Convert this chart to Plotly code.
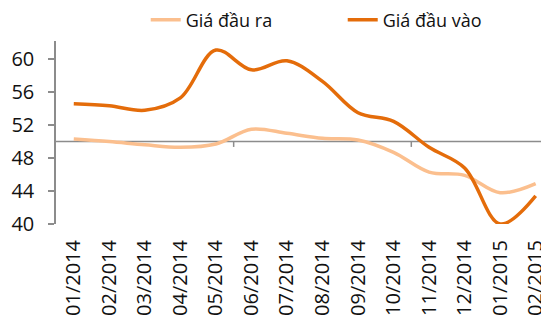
import plotly.graph_objects as go

months = ["01/2014", "02/2014", "03/2014", "04/2014", "05/2014", "06/2014", "07/2014",
          "08/2014", "09/2014", "10/2014", "11/2014", "12/2014", "01/2015", "02/2015"]
gia_dau_ra = [50.3, 50.0, 49.6, 49.3, 49.7, 51.5, 51.0, 50.4, 50.2, 48.7, 46.3, 45.9, 43.8, 44.9]
gia_dau_vao = [54.6, 54.35, 53.8, 55.3, 61.1, 58.7, 59.8, 57.3, 53.5, 52.45, 49.3, 46.8, 40.0, 43.4]
y_ticks = [40, 44, 48, 52, 56, 60]
axis_ref = 50

x_idx = list(range(len(months)))

fig = go.Figure()
fig.add_trace(go.Scatter(x=x_idx, y=gia_dau_ra, name="Giá đầu ra", mode="lines",
                         line=dict(color="#FBBF8E", width=3.5, shape="spline", smoothing=1.0)))
fig.add_trace(go.Scatter(x=x_idx, y=gia_dau_vao, name="Giá đầu vào", mode="lines",
                         line=dict(color="#E46C0A", width=3.5, shape="spline", smoothing=1.0)))

# horizontal axis line at 50 with ticks every 5 categories
fig.add_shape(type="line", xref="paper", x0=0, x1=1, yref="y", y0=axis_ref, y1=axis_ref,
              line=dict(color="#8C8C8C", width=1.5), layer="below")
for t in [4.5, 9.5]:
    fig.add_shape(type="line", xref="x", x0=t, x1=t, yref="y", y0=axis_ref, y1=axis_ref - 0.65,
                  line=dict(color="#8C8C8C", width=1.5), layer="below")

fig.update_layout(
    width=541, height=316,
    margin=dict(l=56, r=0, t=41, b=92),
    paper_bgcolor="white", plot_bgcolor="white",
    font=dict(family="Open Sans", size=20, color="#111111"),
    showlegend=True,
    legend=dict(orientation="h", x=0.185, xanchor="left", y=1.115, yanchor="middle",
                font=dict(size=18), entrywidth=152, entrywidthmode="pixels",
                bgcolor="rgba(0,0,0,0)"),
    xaxis=dict(tickmode="array", tickvals=x_idx, ticktext=months, tickangle=-90,
               range=[-0.5, 13.15], showline=False, showgrid=False, zeroline=False,
               ticks="", automargin=False, ticklabelstandoff=11,
               ticklabeloverflow="allow"),
    yaxis=dict(range=[40, 62.2], tickmode="array", tickvals=y_ticks, showgrid=False,
               zeroline=False, showline=True, linecolor="#8C8C8C", linewidth=1.5,
               ticks="outside", ticklen=6, tickcolor="#8C8C8C", tickwidth=1.5,
               automargin=False, ticklabelstandoff=10),
)

fig.write_html("out.html", config={"displayModeBar": False},
               post_script="document.body.style.margin='0';")
